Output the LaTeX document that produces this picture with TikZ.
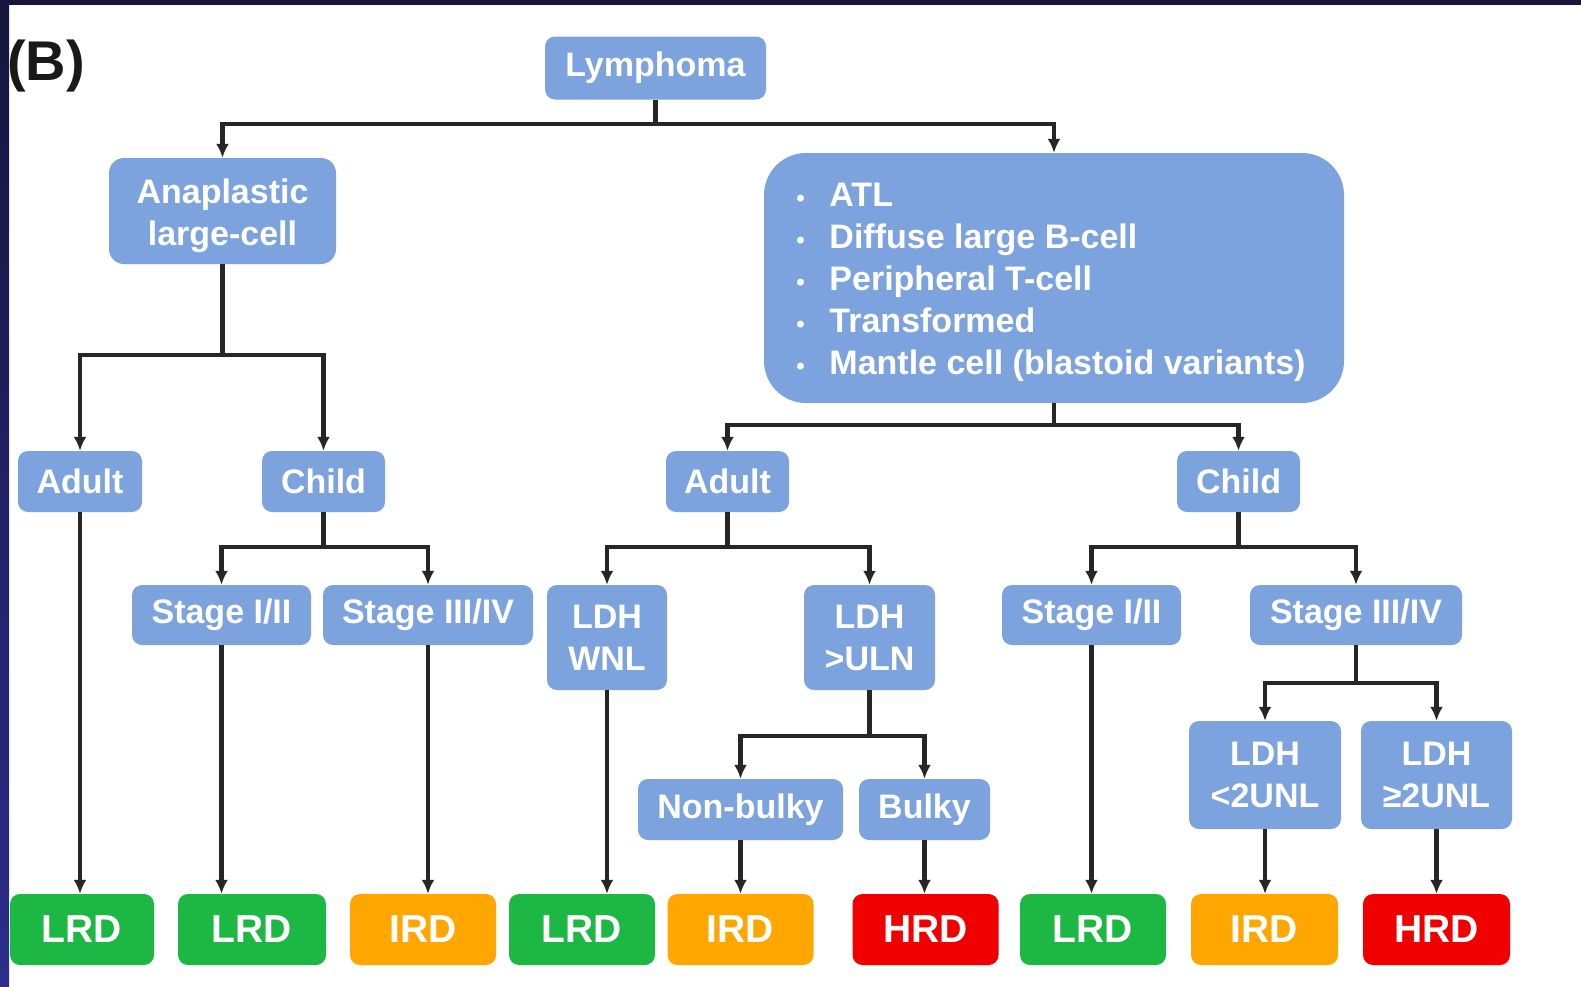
\documentclass[tikz,border=0pt]{standalone}
\usepackage{fontspec}
\setmainfont{Liberation Sans}
\usetikzlibrary{arrows.meta}
\definecolor{boxblue}{HTML}{7CA3DD}
\definecolor{rgreen}{HTML}{1DB843}
\definecolor{rorange}{HTML}{FFA600}
\definecolor{rred}{HTML}{F00000}
\definecolor{linec}{HTML}{262626}
\definecolor{navytop}{HTML}{15153D}
\definecolor{navybot}{HTML}{2D2D8C}
\tikzset{
  bbox/.style={fill=boxblue, rounded corners=10pt, text=white, font=\bfseries\fontsize{34}{42}\selectfont, align=center, inner sep=0pt},
  btext/.style={text=white, font=\bfseries\fontsize{34}{42}\selectfont, align=left, inner sep=0pt},
  rbox/.style={rounded corners=10pt, text=white, font=\bfseries\fontsize{39}{46}\selectfont, inner sep=0pt, minimum width=146pt, minimum height=71pt},
  conn/.style={draw=linec, line width=4.5pt},
  arr/.style={conn, -{Latex[length=14pt,width=13pt]}},
}
\newcommand{\bul}{\makebox[33pt][l]{\fontsize{24}{24}\selectfont\textbullet}}
\begin{document}
\begin{tikzpicture}[x=1pt,y=-1pt]
\fill[white] (0,0) rectangle (1581,986);
\useasboundingbox (0,0) rectangle (1581,986);
\shade[top color=navytop, bottom color=navybot] (0,0) rectangle (9,986);
\fill[navytop] (0,0) rectangle (1581,5);
\node[anchor=base west, inner sep=0pt, text=black!90, font=\bfseries\fontsize{56}{62}\selectfont] (lab) at (7,80) {(B)};
% blue boxes
\node[bbox, minimum width=221pt, minimum height=63pt] (lym) at (655.5,68) {Lymphoma};
\node[bbox, minimum width=227pt, minimum height=106pt, rounded corners=15pt] (ana) at (222.5,211) {};
\node[btext, align=center] (anatxt) at (222.5,216) {Anaplastic\\large-cell};
\node[bbox, minimum width=580pt, minimum height=250pt, rounded corners=42pt] (big) at (1054,278) {};
\node[btext] (bigtxt) at (1051,282.5) {\bul ATL\\\bul Diffuse large B-cell\\\bul Peripheral T-cell\\\bul Transformed\\\bul Mantle cell (blastoid variants)};
\node[bbox, minimum width=124pt, minimum height=61pt] (adL) at (80,481.5) {Adult};
\node[bbox, minimum width=123pt, minimum height=61pt] (chL) at (323.5,481.5) {Child};
\node[bbox, minimum width=179pt, minimum height=60pt] (s12L) at (221.5,615) {Stage I/II};
\node[bbox, minimum width=210pt, minimum height=60pt] (s34L) at (428,615) {Stage III/IV};
\node[bbox, minimum width=123pt, minimum height=61pt] (adR) at (727.5,481.5) {Adult};
\node[bbox, minimum width=123pt, minimum height=61pt] (chR) at (1238.5,481.5) {Child};
\node[bbox, minimum width=120pt, minimum height=105pt] (wnl) at (607,637.5) {LDH\\WNL};
\node[bbox, minimum width=131pt, minimum height=105pt] (uln) at (869.5,637.5) {LDH\\>ULN};
\node[bbox, minimum width=205pt, minimum height=61pt] (nb) at (740.5,809.5) {Non-bulky};
\node[bbox, minimum width=131pt, minimum height=61pt] (bk) at (924.5,809.5) {Bulky};
\node[bbox, minimum width=179pt, minimum height=60pt] (s12R) at (1091.5,615) {Stage I/II};
\node[bbox, minimum width=212pt, minimum height=60pt] (s34R) at (1356,615) {Stage III/IV};
\node[bbox, minimum width=152pt, minimum height=108pt] (lt2) at (1265,775) {LDH\\<2UNL};
\node[bbox, minimum width=151pt, minimum height=108pt] (ge2) at (1436.5,775) {LDH\\≥2UNL};
% result boxes
\node[rbox, fill=rgreen, minimum width=144pt] (r1) at (82,929.5) {LRD};
\node[rbox, fill=rgreen, minimum width=148pt] (r2) at (252,929.5) {LRD};
\node[rbox, fill=rorange] (r3) at (423,929.5) {IRD};
\node[rbox, fill=rgreen] (r4) at (582,929.5) {LRD};
\node[rbox, fill=rorange] (r5) at (740.5,929.5) {IRD};
\node[rbox, fill=rred] (r6) at (925.5,929.5) {HRD};
\node[rbox, fill=rgreen] (r7) at (1093,929.5) {LRD};
\node[rbox, fill=rorange, minimum width=147pt] (r8) at (1264.5,929.5) {IRD};
\node[rbox, fill=rred, minimum width=147pt] (r9) at (1436.5,929.5) {HRD};
% connectors
\coordinate (j0) at (655.5,124);
\draw[arr] (lym.south) -- (j0) -| (ana.north);
\draw[arr] (j0) -| (big.north);
\coordinate (j1) at (222.5,355);
\draw[arr] (ana.south) -- (j1) -| (adL.north);
\draw[arr] (j1) -| (chL.north);
\coordinate (j2) at (323.5,547);
\draw[arr] (chL.south) -- (j2) -| (s12L.north);
\draw[arr] (j2) -| (s34L.north);
\coordinate (j3) at (1054,425);
\draw[arr] (big.south) -- (j3) -| (adR.north);
\draw[arr] (j3) -| (chR.north);
\coordinate (j4) at (727.5,547);
\draw[arr] (adR.south) -- (j4) -| (wnl.north);
\draw[arr] (j4) -| (uln.north);
\coordinate (j5) at (869.5,736);
\draw[arr] (uln.south) -- (j5) -| (nb.north);
\draw[arr] (j5) -| (bk.north);
\coordinate (j6) at (1238.5,547);
\draw[arr] (chR.south) -- (j6) -| (s12R.north);
\draw[arr] (j6) -| (s34R.north);
\coordinate (j7) at (1356,683);
\draw[arr] (s34R.south) -- (j7) -| (lt2.north);
\draw[arr] (j7) -| (ge2.north);
\draw[arr] (adL.south) -- (adL.south |- r1.north);
\draw[arr] (s12L.south) -- (s12L.south |- r2.north);
\draw[arr] (s34L.south) -- (s34L.south |- r3.north);
\draw[arr] (wnl.south) -- (wnl.south |- r4.north);
\draw[arr] (nb.south) -- (nb.south |- r5.north);
\draw[arr] (bk.south) -- (bk.south |- r6.north);
\draw[arr] (s12R.south) -- (s12R.south |- r7.north);
\draw[arr] (lt2.south) -- (lt2.south |- r8.north);
\draw[arr] (ge2.south) -- (ge2.south |- r9.north);
\end{tikzpicture}
\end{document}
